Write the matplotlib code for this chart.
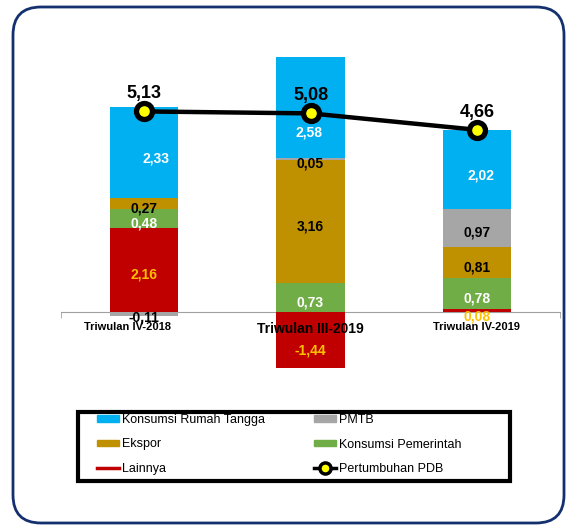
import matplotlib
matplotlib.use("Agg")
import matplotlib.pyplot as plt
from matplotlib.patches import FancyBboxPatch, Patch, Rectangle
from matplotlib.lines import Line2D
from matplotlib.transforms import IdentityTransform, ScaledTranslation
import numpy as np

categories = ["Triwulan IV-2018", "Triwulan III-2019", "Triwulan IV-2019"]
series_names = ["Lainnya", "Konsumsi Pemerintah", "Ekspor", "PMTB", "Konsumsi Rumah Tangga"]
lainnya = [2.16, -1.44, 0.08]
pemerintah = [0.48, 0.73, 0.78]
ekspor = [0.27, 3.16, 0.81]
pmtb = [-0.11, 0.05, 0.97]
rumah_tangga = [2.33, 2.58, 2.02]
pdb = [5.13, 5.08, 4.66]

colors = {"Lainnya": "#C00000", "Konsumsi Pemerintah": "#70AD47", "Ekspor": "#BF9000",
          "PMTB": "#A6A6A6", "Konsumsi Rumah Tangga": "#00B0F0"}
label_colors = {"Lainnya": "#FFC000", "Konsumsi Pemerintah": "white", "Ekspor": "black",
                "PMTB": "black", "Konsumsi Rumah Tangga": "white"}
# label nudges in pixels (dx right, dy down), default dy=5
label_nudge = {("Konsumsi Rumah Tangga", 0): (12, 6), ("Konsumsi Rumah Tangga", 1): (-2, 25),
               ("Konsumsi Rumah Tangga", 2): (4, 6), ("PMTB", 0): (0, 3),
               ("Lainnya", 1): (0, 10), ("Lainnya", 2): (0, 6)}

NARROW = ["Liberation Sans Narrow", "Liberation Sans", "DejaVu Sans"]
plt.rcParams["font.family"] = ["Liberation Sans", "DejaVu Sans"]

fig = plt.figure(figsize=(5.68, 5.25), dpi=100)
ax = fig.add_axes([61/568, 1-380/525, 499/568, 340/525])

x = np.arange(len(categories))
width = 0.41
pos_bottom = np.zeros(len(categories))
neg_bottom = np.zeros(len(categories))
data = [lainnya, pemerintah, ekspor, pmtb, rumah_tangga]
for name, vals in zip(series_names, data):
    vals = np.array(vals)
    bottoms = np.where(vals >= 0, pos_bottom, neg_bottom)
    cont = ax.bar(x, vals, width, bottom=bottoms, color=colors[name], zorder=1)
    labels = [f"{v:.2f}".replace(".", ",") for v in vals]
    anns = ax.bar_label(cont, labels=labels, label_type="center", color=label_colors[name],
                        fontsize=10, fontweight="bold", family=NARROW)
    for i, ann in enumerate(anns):
        dx, dy = label_nudge.get((name, i), (0, 5))
        ann.xyann = (dx * 0.72, -dy * 0.72)
    pos_bottom += np.where(vals >= 0, vals, 0)
    neg_bottom += np.where(vals < 0, vals, 0)

ax.plot(x, pdb, color="black", lw=3.2, marker="o", markersize=11.5,
        markerfacecolor="#FFFF00", markeredgecolor="black", markeredgewidth=3.8, zorder=4)
for xi, v in zip(x, pdb):
    ax.annotate(f"{v:.2f}".replace(".", ","), (xi, v), xytext=(0, 9.5), textcoords="offset points",
                ha="center", va="baseline", fontsize=13, fontweight="bold", family=NARROW, zorder=5)

ax.set_xlim(-0.5, 2.5)
ax.set_ylim(-1.739, 6.957)
for s in ["top", "right", "left"]:
    ax.spines[s].set_visible(False)
ax.spines["bottom"].set_position(("data", 0))
ax.spines["bottom"].set_color("#A0A0A0")
ax.spines["bottom"].set_zorder(0.5)
ax.set_yticks([])
ax.set_xticks(x)
ax.set_xticklabels(categories, fontweight="bold", family=NARROW)
ax.set_xticks([-0.5, 2.5], minor=True)
ax.tick_params(axis="x", which="major", length=0, pad=7)
ax.tick_params(axis="x", which="minor", length=4, color="#A0A0A0")
tl = ax.get_xticklabels()
tl[0].set_fontsize(8)
tl[1].set_fontsize(10)
tl[2].set_fontsize(8)
tl[0].set_transform(tl[0].get_transform() + ScaledTranslation(-17/100, 0, fig.dpi_scale_trans))

handles = [
    Patch(color=colors["Konsumsi Rumah Tangga"]),
    Patch(color=colors["Ekspor"]),
    Line2D([], [], color=colors["Lainnya"], lw=2.5),
    Patch(color=colors["PMTB"]),
    Patch(color=colors["Konsumsi Pemerintah"]),
    Line2D([], [], color="black", lw=2.5, marker="o", markersize=8,
           markerfacecolor="#FFFF00", markeredgecolor="black", markeredgewidth=2.5),
]
names = ["Konsumsi Rumah Tangga", "Ekspor", "Lainnya", "PMTB", "Konsumsi Pemerintah", "Pertumbuhan PDB"]
leg = fig.legend(handles, names, ncol=2, loc="upper left",
                 bbox_to_anchor=(97/568, 1-414/525),
                 borderaxespad=0, fontsize=9, handlelength=1.75, handleheight=0.45,
                 handletextpad=0.25, labelspacing=1.0, borderpad=0.0,
                 frameon=False, columnspacing=3.9)
fig.patches.append(Rectangle((78, 44), 432, 69, transform=IdentityTransform(),
                             facecolor="none", edgecolor="black", lw=3))

frame = FancyBboxPatch((13, 2), 551, 516, boxstyle="round,pad=0,rounding_size=28",
                       transform=IdentityTransform(), facecolor="none",
                       edgecolor="#14306E", lw=2)
fig.patches.append(frame)

fig.savefig("out.png", dpi=100)
